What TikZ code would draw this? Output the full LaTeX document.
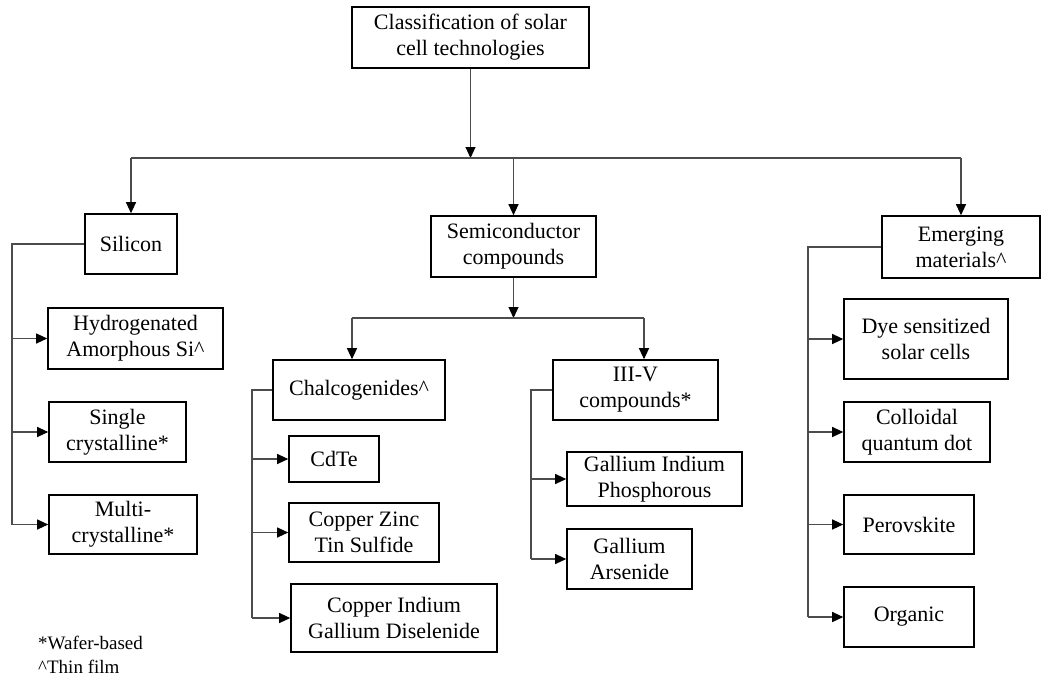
\documentclass[tikz,border=0pt]{standalone}
\usepackage{fontspec}
\setmainfont{Liberation Serif}
\usetikzlibrary{arrows.meta}
\tikzset{
  box/.style={draw, line width=1.6pt, align=center, inner sep=0pt,
    font=\fontsize{22}{26}\selectfont},
  conn/.style={draw=black!70, line width=1.1pt},
  note/.style={anchor=base west, inner sep=0pt, font=\fontsize{19}{23}\selectfont}
}
\begin{document}
\begin{tikzpicture}[x=1pt,y=-1pt,>={Triangle[length=11pt,width=10pt,color=black]}]
  \useasboundingbox (0,0) rectangle (1043,678);
  % Root
  \node[box, minimum width=237pt, minimum height=61pt] (top) at (470.5,37.5)
    {Classification of solar\\cell technologies};

  % Main branches
  \node[box, minimum width=92pt, minimum height=60pt] (silicon) at (131,244) {Silicon};
  \node[box, minimum width=165pt, minimum height=61pt] (semi) at (513.5,246.5)
    {Semiconductor\\compounds};
  \node[box, minimum width=158pt, minimum height=62pt] (emerg) at (961,247)
    {Emerging\\materials\textasciicircum};

  % Silicon group
  \node[box, minimum width=175pt, minimum height=61pt] (hydro) at (135.5,338.5)
    {Hydrogenated\\Amorphous Si\textasciicircum};
  \node[box, minimum width=137pt, minimum height=60pt] (single) at (117.5,432)
    {Single\\crystalline*};
  \node[box, minimum width=148pt, minimum height=59pt] (multi) at (123,524.5)
    {Multi-\\crystalline*};

  % Semiconductor compounds group
  \node[box, minimum width=172pt, minimum height=60pt] (chalc) at (359,390)
    {Chalcogenides\textasciicircum};
  \node[box, minimum width=165pt, minimum height=60pt] (iiiv) at (635.5,390)
    {III-V\\compounds*};
  \node[box, minimum width=90pt, minimum height=46pt] (cdte) at (334,459) {CdTe};
  \node[box, minimum width=150pt, minimum height=59pt] (czts) at (364,532.5)
    {Copper Zinc\\Tin Sulfide};
  \node[box, minimum width=206pt, minimum height=68pt] (cigs) at (394,618)
    {Copper Indium\\Gallium Diselenide};
  \node[box, minimum width=175pt, minimum height=54pt] (gainp) at (654.5,479)
    {Gallium Indium\\Phosphorous};
  \node[box, minimum width=125pt, minimum height=60pt] (gaas) at (629.5,559)
    {Gallium\\Arsenide};

  % Emerging materials group
  \node[box, minimum width=164pt, minimum height=80pt] (dye) at (926,339)
    {Dye sensitized\\solar cells};
  \node[box, minimum width=146pt, minimum height=60pt] (coll) at (917,432)
    {Colloidal\\quantum dot};
  \node[box, minimum width=130pt, minimum height=59pt] (perov) at (909,524.5) {Perovskite};
  \node[box, minimum width=130pt, minimum height=60pt] (organic) at (909,617) {Organic};

  % Footnotes
  \node[note] (wafer) at (38,649) {*Wafer-based};
  \node[note] (thin) at (38,673) {\textasciicircum Thin film};

  % Bus points
  \coordinate (mainbar) at (0,158);
  \coordinate (semibar) at (0,318);
  \coordinate (chalcin) at (352,318);
  \coordinate (iiivin) at (644,318);
  \coordinate (sibus) at (12,0);
  \coordinate (chbus) at (252,0);
  \coordinate (vbus) at (531,0);
  \coordinate (embus) at (808,0);

  % Root to main branches
  \draw[conn,->] (top) -- (top.south |- mainbar);
  \draw[conn] (silicon.north |- mainbar) -- (emerg.north |- mainbar);
  \foreach \n in {silicon,semi,emerg}
    \draw[conn,->] (\n.north |- mainbar) -- (\n.north);

  % Semiconductor split
  \draw[conn,->] (semi) -- (semi.south |- semibar);
  \draw[conn] (chalcin) -- (iiivin);
  \draw[conn,->] (chalcin) -- (chalcin |- chalc.north);
  \draw[conn,->] (iiivin) -- (iiivin |- iiiv.north);

  % Side buses
  \draw[conn] (silicon.west) -| (sibus |- multi.west);
  \foreach \n in {hydro,single,multi}
    \draw[conn,->] (sibus |- \n.west) -- (\n.west);

  \draw[conn] (chalc.west) -| (chbus |- cigs.west);
  \foreach \n in {cdte,czts,cigs}
    \draw[conn,->] (chbus |- \n.west) -- (\n.west);

  \draw[conn] (iiiv.west) -| (vbus |- gaas.west);
  \foreach \n in {gainp,gaas}
    \draw[conn,->] (vbus |- \n.west) -- (\n.west);

  \draw[conn] (emerg.west) -| (embus |- organic.west);
  \foreach \n in {dye,coll,perov,organic}
    \draw[conn,->] (embus |- \n.west) -- (\n.west);
\end{tikzpicture}
\end{document}
